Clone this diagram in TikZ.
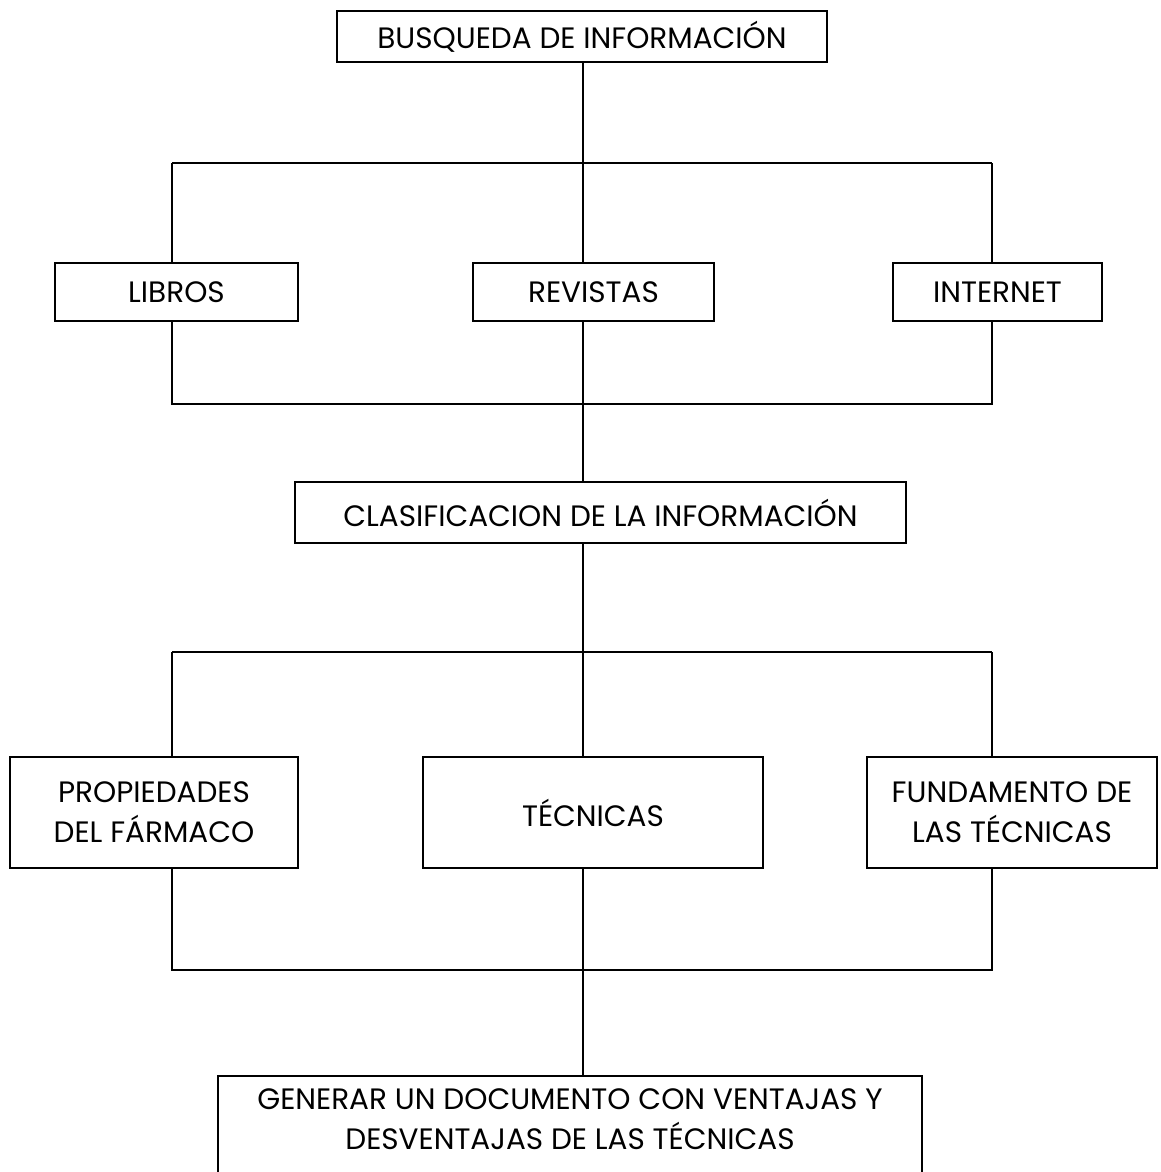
\documentclass[tikz,border=0pt]{standalone}
\usepackage{fontspec}
\setmainfont{Poppins}
\begin{document}
\begin{tikzpicture}[x=1pt,y=-1pt,
  box/.style={draw=black, line width=2pt, inner sep=0pt, align=center, font=\fontsize{29.5}{40}\selectfont},
  conn/.style={draw=black, line width=2pt}]
\useasboundingbox (0,0) rectangle (1160,1172);
% boxes
\node[box, minimum width=490, minimum height=51] (top) at (582,36.5) {BUSQUEDA DE INFORMACIÓN};
\node[box, minimum width=243, minimum height=58] (libros) at (176.5,292) {LIBROS};
\node[box, minimum width=241, minimum height=58] (revistas) at (593.5,292) {REVISTAS};
\node[box, minimum width=209, minimum height=58] (internet) at (997.5,292) {INTERNET};
\node[box, minimum width=611, minimum height=61] (clas) at (600.5,512.5) {CLASIFICACION DE LA INFORMACIÓN};
\node[box, minimum width=288, minimum height=111] (prop) at (154,812.5) {PROPIEDADES\\DEL FÁRMACO};
\node[box, minimum width=340, minimum height=111] (tec) at (593,812.5) {TÉCNICAS};
\node[box, minimum width=290, minimum height=111] (fund) at (1012,812.5) {FUNDAMENTO DE\\LAS TÉCNICAS};
\node[box, minimum width=704, minimum height=110] (gen) at (570,1131) {};
\node[box, draw=none] (genT) at (570,1119) {GENERAR UN DOCUMENTO CON VENTAJAS Y\\DESVENTAJAS DE LAS TÉCNICAS};
% junction coordinates
\coordinate (aL) at (172,163);
\coordinate (aM) at (583,163);
\coordinate (aR) at (992,163);
\coordinate (bL) at (172,404);
\coordinate (bM) at (583,404);
\coordinate (bR) at (992,404);
\coordinate (cL) at (172,652);
\coordinate (cM) at (583,652);
\coordinate (cR) at (992,652);
\coordinate (dL) at (172,970);
\coordinate (dM) at (583,970);
\coordinate (dR) at (992,970);
% connectors level 1
\draw[conn] (aM |- top.south) -- (aM);
\draw[conn] (aL) -- (aR);
\draw[conn] (aL) -- (aL |- libros.north);
\draw[conn] (aM) -- (aM |- revistas.north);
\draw[conn] (aR) -- (aR |- internet.north);
\draw[conn] (bL |- libros.south) -- (bL) -- (bR) -- (bR |- internet.south);
\draw[conn] (bM |- revistas.south) -- (bM);
\draw[conn] (bM) -- (bM |- clas.north);
% connectors level 2
\draw[conn] (cM |- clas.south) -- (cM);
\draw[conn] (cL) -- (cR);
\draw[conn] (cL) -- (cL |- prop.north);
\draw[conn] (cM) -- (cM |- tec.north);
\draw[conn] (cR) -- (cR |- fund.north);
\draw[conn] (dL |- prop.south) -- (dL) -- (dR) -- (dR |- fund.south);
\draw[conn] (dM |- tec.south) -- (dM);
\draw[conn] (dM) -- (dM |- gen.north);
\end{tikzpicture}
\end{document}
